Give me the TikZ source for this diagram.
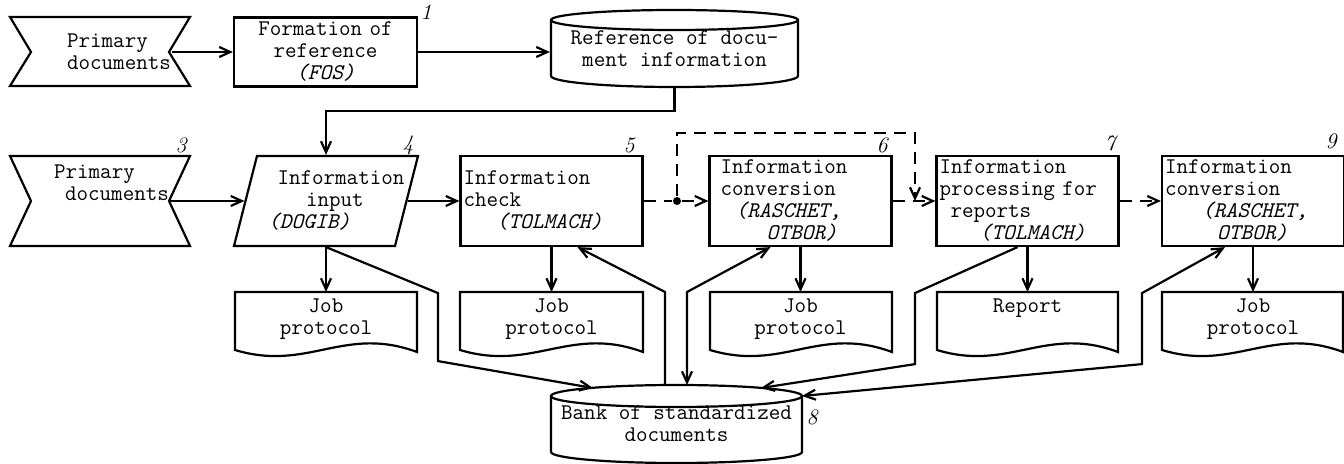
\documentclass[tikz,border=0pt]{standalone}
\usetikzlibrary{arrows.meta}

\begin{document}
\begin{tikzpicture}[
        x=0.5pt, y=-0.5pt,
        line width=1.1pt,
        >={Straight Barb[length=5.5pt,width=5pt]},
        txt/.style={
            font=\ttfamily\fontsize{11.2}{11}\selectfont,
            inner sep=0pt,
        },
        prim/.style={txt, align=left},
        box/.style={
            txt,
            draw,
            rectangle,
            align=left,
            text width=88pt,
            inner xsep=1.5pt,
            minimum height=45pt,
        },
        doc/.style={txt, align=center, anchor=north, inner ysep=3pt},
        num/.style={font=\itshape\fontsize{11}{11}\selectfont, inner sep=0pt},
        dot/.style={circle, fill, inner sep=0pt, minimum size=4pt},
        dashflow/.style={dash pattern=on 6pt off 4pt},
    ]

    \useasboundingbox (0,0) rectangle (1344,464);

    % top row
    \node (prim1) at (119,52) [prim] {Primary\\documents};
    \draw (10,17) -- (31,52) -- (10,86) -- (190,86) -- (169,52) -- (190,17) -- cycle;

    \node (form) at (325.5,52) [box, align=center, text width=88.5pt, minimum height=34.5pt] {Formation of\\reference\\\textit{(FOS)}};
    \node (n1) at (426,12) [num] {1};

    \node (ref) at (674.5,48.5) [txt, align=center, minimum width=123.5pt, minimum height=38.5pt] {Reference of docu-\\ment information};
    \draw (674.5,20) ellipse [x radius=123.5, y radius=10];
    \draw (551,20) -- (551,76) .. controls (551,82) and (606,87) .. (674.5,87) .. controls (743,87) and (798,82) .. (798,76) -- (798,20);

    \draw [->] (prim1.east) -- (form.west);
    \draw [->] (form.east) -- (form.east -| ref.west);

    % second row
    \node (prim3) at (117,183) [prim] {\hspace*{-5.5pt}Primary\\documents};
    \draw (10,156) -- (31,201) -- (10,246) -- (190,246) -- (169,201) -- (190,156) -- cycle;
    \node (n3) at (181,145) [num] {3};

    \node (input) at (326,201) [txt, align=left, text width=80.5pt, minimum height=45pt] {\hspace*{16pt}Information\\\hspace*{30.25pt}input\\\hspace*{11.25pt}\textit{(DOGIB)}\\[-5pt]};
    \draw (257,156) -- (418,156) -- (395,246) -- (234,246) -- cycle;
    \node (n4) at (408,145) [num] {4};

    \node (check) at (551.5,201) [box] {Information\\check\\\hspace*{16.5pt}\textit{(TOLMACH)}\\[-5pt]};
    \node (n5) at (629,145) [num] {5};

    \node (conv6) at (800.5,201) [box] {\hspace*{4pt}Information\\\hspace*{4pt}conversion\\\hspace*{11.5pt}\textit{(RASCHET,}\\\hspace*{27pt}\textit{OTBOR)}};
    \node (n6) at (882,145) [num] {6};

    \node (proc7) at (1027.5,201) [box] {Information\\processing for\\\hspace*{5.5pt}reports\\\hspace*{20pt}\textit{(TOLMACH)}};
    \node (n7) at (1110,143) [num] {7};

    \node (conv9) at (1253,201) [box] {Information\\conversion\\\hspace*{18.5pt}\textit{(RASCHET,}\\\hspace*{26pt}\textit{OTBOR)}};
    \node (n9) at (1331,141) [num] {9};

    \draw [->] (prim3.east |- input) -- (input);
    \draw [->] (ref.south) -- ++(0,23) -| (input);
    \draw [->] (input) -- (check);

    \node (split) at (677,201) [dot] {};
    \coordinate (merge) at (915,201);
    \draw [dashflow] (check) -- (split);
    \draw [dashflow, ->] (split) -- (conv6);
    \draw [dashflow, ->] (split) -- ++(0,-68) -| (merge);
    \draw [dashflow, ->] (conv6) -- (proc7);
    \draw [dashflow, ->] (proc7) -- (conv9);

    % protocols
    \node (job1) at (326,292) [doc] {Job\\protocol};
    \draw (235,292) -- (417,292) -- (417,352) .. controls (344,325) and (308,372) .. (235,350) -- cycle;
    \node (job2) at (551.5,292) [doc] {Job\\protocol};
    \draw (460,292) -- (643,292) -- (643,352) .. controls (570,325) and (533,372) .. (460,350) -- cycle;
    \node (job3) at (800.5,292) [doc] {Job\\protocol};
    \draw (710,292) -- (892,292) -- (892,352) .. controls (819,325) and (783,372) .. (710,350) -- cycle;
    \node (report) at (1027.5,292) [doc] {Report};
    \draw (937,292) -- (1118,292) -- (1118,352) .. controls (1046,325) and (1009,372) .. (937,350) -- cycle;
    \node (job5) at (1253,292) [doc] {Job\\protocol};
    \draw (1162,292) -- (1343,292) -- (1343,352) .. controls (1271,325) and (1234,372) .. (1162,350) -- cycle;

    \draw [->] (input) -- (job1);
    \draw [->] (check) -- (job2);
    \draw [->] (conv6) -- (job3);
    \draw [->] (proc7) -- (report);
    \draw [->] (conv9) -- (job5);

    % bank
    \node (bank) at (676.5,424) [txt, align=center, minimum width=125.5pt, minimum height=39pt] {Bank of standardized\\documents};
    \draw (676.5,396) ellipse [x radius=125.5, y radius=11];
    \draw (551,396) -- (551,452) .. controls (551,458) and (607,463) .. (676.5,463) .. controls (746,463) and (802,458) .. (802,452) -- (802,396);
    \node (n8) at (812,417) [num] {8};

    \coordinate (bankin1) at (593,388);
    \coordinate (bankout1) at (665,385);
    \coordinate (bankin2) at (687,385);
    \coordinate (bankin3) at (761,388);
    \coordinate (bankin4) at (802,396);

    \draw [->] (input.south) -- ++(112,46) -- ++(0,68) -- (bankin1);
    \draw [->] (bankout1) -- ++(0,-93) -- ([xshift=13pt]check.south);
    \draw [<->] (bankin2) -- ++(0,-93) -- ([xshift=-15pt]conv6.south);
    \draw [->] ([xshift=-5pt]proc7.south) -- ++(-102.5,46) -- ++(0,71) -- (bankin3);
    \draw [<->] ([xshift=-14pt]conv9.south) -- ++(-83,46) -- ++(0,71) -- (bankin4);

\end{tikzpicture}
\end{document}
